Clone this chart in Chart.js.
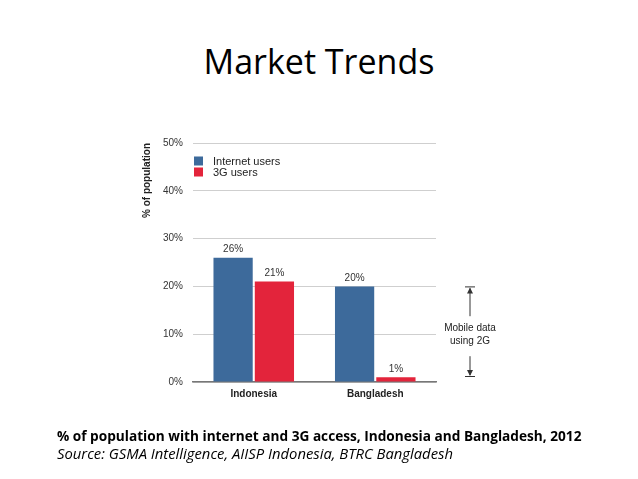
<!DOCTYPE html>
<html><head><meta charset="utf-8">
<script src="https://cdn.jsdelivr.net/npm/chart.js@4"></script>
<style>
html,body{margin:0;padding:0;background:#fff;}
#wrap{position:relative;width:638px;height:479px;overflow:hidden;}
#c{position:absolute;left:0;top:0;}
#title{position:absolute;left:0;width:638px;top:38px;text-align:center;font-family:'Open Sans',sans-serif;font-size:34px;color:#000;line-height:46px;}
#cap{position:absolute;left:57px;top:427px;font-family:'Open Sans',sans-serif;font-size:13.65px;font-weight:bold;color:#000;white-space:nowrap;line-height:18px;}
#src{position:absolute;left:57px;top:444px;font-family:'Open Sans',sans-serif;font-size:14.8px;font-style:italic;color:#000;white-space:nowrap;line-height:18px;}
</style></head>
<body><div id="wrap">
<div id="title">Market Trends</div>
<canvas id="c" width="638" height="479"></canvas>
<div id="cap">% of population with internet and 3G access, Indonesia and Bangladesh, 2012</div>
<div id="src">Source: GSMA Intelligence, AIISP Indonesia, BTRC Bangladesh</div>
</div>
<script>
const categories = ['Indonesia', 'Bangladesh'];
const internetUsers = [26, 20];
const users3G = [21, 1];
const seriesNames = ['Internet users', '3G users'];
const yTicks = [0, 10, 20, 30, 40, 50];
const annotationLines = ['Mobile data', 'using 2G'];

const BLUE = '#3d6a9b';
const RED = '#e3243b';

const extras = {
  id: 'extras',
  afterDatasetsDraw(chart) {
    const ctx = chart.ctx;
    const ca = chart.chartArea;
    const y = chart.scales.y;
    ctx.save();
    // value labels
    ctx.font = '10px "Liberation Sans", Arial, sans-serif';
    ctx.fillStyle = '#333';
    ctx.textAlign = 'center';
    ctx.textBaseline = 'bottom';
    chart.data.datasets.forEach((ds, di) => {
      chart.getDatasetMeta(di).data.forEach((bar, i) => {
        ctx.fillText(ds.data[i] + '%', bar.x, bar.y - 3);
      });
    });
    // legend
    ctx.textAlign = 'left';
    ctx.textBaseline = 'middle';
    ctx.font = '11px "Liberation Sans", Arial, sans-serif';
    chart.data.datasets.forEach((ds, di) => {
      const ly = ca.top + 18 + di * 11;
      ctx.fillStyle = ds.backgroundColor;
      ctx.fillRect(ca.left + 1, ly - 4.5, 9, 9);
      ctx.fillStyle = '#222';
      ctx.fillText(ds.label, ca.left + 20, ly + 0.5);
    });
    // annotation arrow
    const ax = ca.right + 34;
    const yTop = y.getPixelForValue(internetUsers[1]);
    const yBot = y.getPixelForValue(0);
    ctx.strokeStyle = '#333';
    ctx.fillStyle = '#333';
    ctx.lineWidth = 1;
    const midY = (yTop + yBot) / 2;
    ctx.beginPath();
    ctx.moveTo(ax - 5, yTop + 0.5); ctx.lineTo(ax + 5, yTop + 0.5);
    ctx.moveTo(ax - 5, yBot - 5.5); ctx.lineTo(ax + 5, yBot - 5.5);
    ctx.moveTo(ax, yTop + 2); ctx.lineTo(ax, midY - 18);
    ctx.moveTo(ax, midY + 22); ctx.lineTo(ax, yBot - 7);
    ctx.stroke();
    ctx.beginPath();
    ctx.moveTo(ax, yTop + 1); ctx.lineTo(ax - 3, yTop + 7); ctx.lineTo(ax + 3, yTop + 7); ctx.closePath();
    ctx.moveTo(ax, yBot - 6); ctx.lineTo(ax - 3, yBot - 12); ctx.lineTo(ax + 3, yBot - 12); ctx.closePath();
    ctx.fill();
    ctx.font = '10px "Liberation Sans", Arial, sans-serif';
    ctx.textAlign = 'center';
    ctx.fillStyle = '#222';
    ctx.fillText(annotationLines[0], ax, midY - 6);
    ctx.fillText(annotationLines[1], ax, midY + 7);
    ctx.restore();
  }
};

new Chart(document.getElementById('c'), {
  type: 'bar',
  data: {
    labels: categories,
    datasets: [
      { label: seriesNames[0], data: internetUsers, backgroundColor: BLUE },
      { label: seriesNames[1], data: users3G, backgroundColor: RED }
    ]
  },
  options: {
    responsive: false,
    animation: false,
    devicePixelRatio: 1,
    categoryPercentage: 0.68,
    barPercentage: 0.95,
    layout: { padding: { left: 141, top: 143, right: 202, bottom: 77 } },
    plugins: { legend: { display: false }, tooltip: { enabled: false } },
    scales: {
      x: {
        grid: { display: false, drawTicks: false },
        border: { color: '#777', width: 1.5 },
        ticks: { color: '#222', padding: 6, font: { family: '"Liberation Sans", Arial, sans-serif', size: 10, weight: 'bold' } },
        afterFit(s) { s.height = 20; }
      },
      y: {
        min: 0, max: 50,
        afterBuildTicks(s) { s.ticks = yTicks.map(v => ({ value: v })); },
        grid: { color: '#cfcfcf', drawTicks: false },
        border: { display: false },
        ticks: { color: '#333', padding: 10, callback: v => v + '%', font: { family: '"Liberation Sans", Arial, sans-serif', size: 10 } },
        title: { display: true, text: '% of population', align: 'end', color: '#222', padding: { top: 0, bottom: 0 }, font: { family: '"Liberation Sans", Arial, sans-serif', size: 10, weight: 'bold' } },
        afterFit(s) { s.width = 52; }
      }
    }
  },
  plugins: [extras]
});
</script>
</body></html>
